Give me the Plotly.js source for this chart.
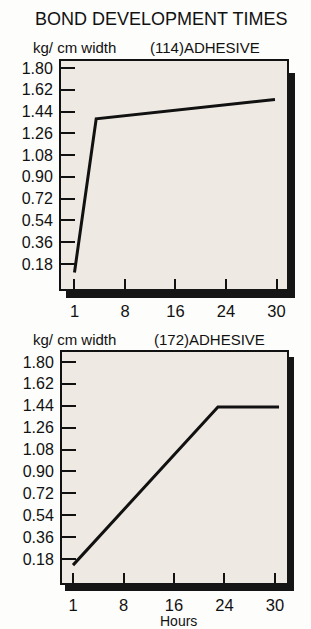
<!DOCTYPE html>
<html>
<head>
<meta charset="utf-8">
<script src="https://cdn.plot.ly/plotly-3.0.1.min.js"></script>
<style>
html,body{margin:0;padding:0;background:#fdfdfb;}
#chart{width:311px;height:629px;}
</style>
</head>
<body>
<div id="chart"></div>
<script>
// Hour tick labels (evenly spaced on the original chart)
var hourLabels = ['1', '8', '16', '24', '30'];
var hourPos = [0, 1, 2, 3, 4];
var yTicks = [0.18, 0.36, 0.54, 0.72, 0.90, 1.08, 1.26, 1.44, 1.62, 1.80];
var yTickText = ['0.18', '0.36', '0.54', '0.72', '0.90', '1.08', '1.26', '1.44', '1.62', '1.80'];

// (114) adhesive, x in tick-index units
var adh114X = [0, 0.43, 3.97];
var adh114Y = [0.11, 1.38, 1.54];

// (172) adhesive
var adh172X = [0, 2.87, 4.08];
var adh172Y = [0.13, 1.43, 1.43];

var W = 311, H = 629;
function px(x) { return x / W; }
function py(y) { return 1 - y / H; }

var font = {family: 'Liberation Sans, Arial, sans-serif', color: '#111'};

function xax(dom, range, anchor) {
  return {
    domain: dom, range: range, anchor: anchor, tickmode: 'array', tickvals: hourPos, ticktext: hourLabels,
    ticks: 'inside', ticklen: 10, tickwidth: 2, tickcolor: '#111',
    showline: true, linecolor: '#111', linewidth: 2, mirror: true,
    showgrid: false, zeroline: false, fixedrange: true,
    tickfont: {family: font.family, size: 16.5, color: '#111'}, ticklabelstandoff: 6
  };
}
function yax(dom, range, anchor) {
  return {
    domain: dom, range: range, anchor: anchor, tickmode: 'array', tickvals: yTicks, ticktext: yTickText,
    ticks: 'inside', ticklen: 14, tickwidth: 2, tickcolor: '#111',
    showline: true, linecolor: '#111', linewidth: 2, mirror: true,
    showgrid: false, zeroline: false, fixedrange: true,
    tickfont: {family: font.family, size: 16, color: '#111'}, ticklabelstandoff: 3
  };
}

var traces = [
  {x: adh114X, y: adh114Y, xaxis: 'x', yaxis: 'y', mode: 'lines', line: {color: '#111', width: 3}, hoverinfo: 'skip'},
  {x: adh172X, y: adh172Y, xaxis: 'x2', yaxis: 'y2', mode: 'lines', line: {color: '#111', width: 3}, hoverinfo: 'skip'}
];

var layout = {
  width: W, height: H,
  margin: {l: 0, r: 0, t: 0, b: 0},
  paper_bgcolor: '#fdfdfb',
  plot_bgcolor: '#eee9e2',
  showlegend: false,
  xaxis: xax([px(61), px(287)], [-0.267, 4.208], 'y'),
  yaxis: yax([py(289), py(61)], [-0.027, 1.858], 'x'),
  xaxis2: xax([px(62), px(287)], [-0.218, 4.238], 'y2'),
  yaxis2: yax([py(583), py(352)], [-0.017, 1.882], 'x2'),
  shapes: [
    {type: 'rect', xref: 'paper', yref: 'paper', x0: px(287), x1: px(295), y0: py(298), y1: py(73), fillcolor: '#151515', line: {width: 0}},
    {type: 'rect', xref: 'paper', yref: 'paper', x0: px(66), x1: px(295), y0: py(298), y1: py(289), fillcolor: '#151515', line: {width: 0}},
    {type: 'rect', xref: 'paper', yref: 'paper', x0: px(287), x1: px(294), y0: py(591), y1: py(357), fillcolor: '#151515', line: {width: 0}},
    {type: 'rect', xref: 'paper', yref: 'paper', x0: px(65), x1: px(294), y0: py(591), y1: py(583), fillcolor: '#151515', line: {width: 0}}
  ],
  annotations: [
    {text: 'BOND DEVELOPMENT TIMES', xref: 'paper', yref: 'paper', x: px(161), y: py(19), xanchor: 'center', yanchor: 'middle', showarrow: false, font: {family: font.family, size: 18, color: '#111'}},
    {text: 'kg/ cm width', xref: 'paper', yref: 'paper', x: px(31), y: py(47), xanchor: 'left', yanchor: 'middle', showarrow: false, font: {family: font.family, size: 15, color: '#111'}},
    {text: '(114)ADHESIVE', xref: 'paper', yref: 'paper', x: px(148), y: py(47), xanchor: 'left', yanchor: 'middle', showarrow: false, font: {family: font.family, size: 15, color: '#111'}},
    {text: 'kg/ cm width', xref: 'paper', yref: 'paper', x: px(31), y: py(339), xanchor: 'left', yanchor: 'middle', showarrow: false, font: {family: font.family, size: 15, color: '#111'}},
    {text: '(172)ADHESIVE', xref: 'paper', yref: 'paper', x: px(152), y: py(339), xanchor: 'left', yanchor: 'middle', showarrow: false, font: {family: font.family, size: 15, color: '#111'}},
    {text: 'Hours', xref: 'paper', yref: 'paper', x: px(178), y: py(621), xanchor: 'center', yanchor: 'middle', showarrow: false, font: {family: font.family, size: 14, color: '#111'}}
  ]
};

Plotly.newPlot('chart', traces, layout, {displayModeBar: false, staticPlot: true});
</script>
</body>
</html>
